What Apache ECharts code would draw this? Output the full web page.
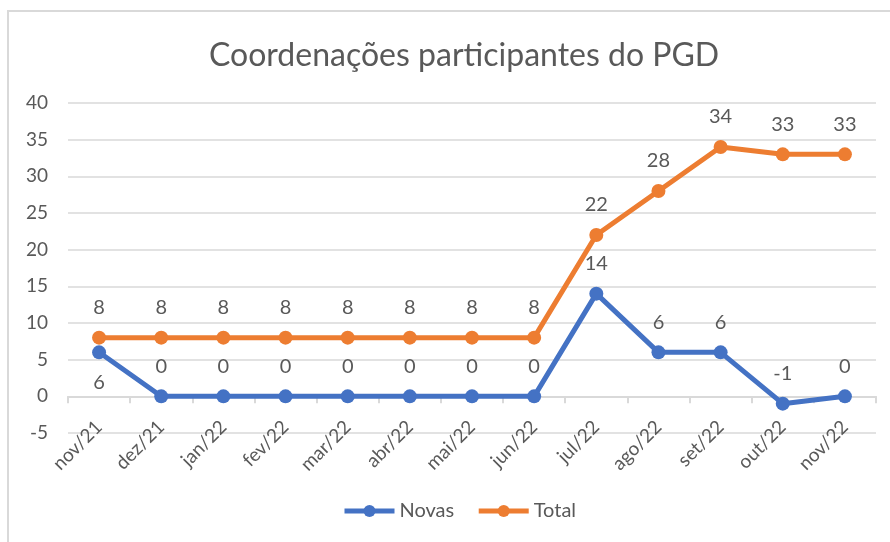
<!DOCTYPE html>
<html>
<head>
<meta charset="utf-8">
<script src="https://cdn.jsdelivr.net/npm/echarts@6/dist/echarts.min.js"></script>
<style>html,body{margin:0;padding:0;background:#fff}#c{width:890px;height:542px}</style>
</head>
<body>
<div id="c"></div>
<script>
const categories = ['nov/21','dez/21','jan/22','fev/22','mar/22','abr/22','mai/22','jun/22','jul/22','ago/22','set/22','out/22','nov/22'];
const novas = [6,0,0,0,0,0,0,0,14,6,6,-1,0];
const total = [8,8,8,8,8,8,8,8,22,28,34,33,33];
const yMin = -5, yMax = 40, yStep = 5;

const font = 'Lato, "Noto Sans", sans-serif';
const txt = '#595959';
const chart = echarts.init(document.getElementById('c'));
const novasData = novas.map((v, i) => i === 0 ? {value: v, label: {position: 'bottom'}} : v);
chart.setOption({
  animation: false,
  textStyle: {fontFamily: font},
  title: {text: 'Coordenações participantes do PGD', left: 204, top: 35,
    textStyle: {fontFamily: font, fontSize: 32, fontWeight: 'normal', color: txt}},
  legend: {bottom: 16, left: 337, itemWidth: 50, itemHeight: 15, itemGap: 22,
    lineStyle: {width: 5},
    textStyle: {fontFamily: font, fontSize: 20, color: txt},
    data: ['Novas', 'Total']},
  grid: {left: 68, right: 14, top: 103, bottom: 109, containLabel: false},
  graphic: [{type: 'polyline', silent: true, shape: {points: [[8, 560], [8, 11], [900, 11]]},
    style: {stroke: '#d9d9d9', lineWidth: 2, fill: null}}],
  xAxis: [{
    type: 'category', data: categories, boundaryGap: true,
    axisLine: {show: false, onZero: false}, axisTick: {show: false},
    axisLabel: {rotate: 45, fontSize: 19, color: txt, margin: -9, fontFamily: font}
  }, {
    type: 'category', data: categories, boundaryGap: true,
    axisLine: {show: true, onZero: true, lineStyle: {color: '#d9d9d9', width: 2}},
    axisTick: {show: true, inside: true, length: 7, lineStyle: {color: '#d9d9d9', width: 2}},
    axisLabel: {show: false}
  }],
  yAxis: {type: 'value', min: yMin, max: yMax, interval: yStep,
    axisLine: {show: false}, axisTick: {show: false},
    axisLabel: {fontSize: 19, color: txt, margin: 20, fontFamily: font},
    splitLine: {lineStyle: {color: '#d9d9d9', width: 1.5}}},
  series: [{
    name: 'Novas', type: 'line', data: novasData, symbol: 'circle', symbolSize: 14,
    itemStyle: {color: '#4472C4'}, lineStyle: {width: 5, color: '#4472C4'},
    label: {show: true, position: 'top', distance: 13, fontSize: 20, color: txt, fontFamily: font}
  }, {
    name: 'Total', type: 'line', data: total, symbol: 'circle', symbolSize: 14,
    itemStyle: {color: '#ED7D31'}, lineStyle: {width: 5, color: '#ED7D31'},
    label: {show: true, position: 'top', distance: 13, fontSize: 20, color: txt, fontFamily: font}
  }]
});
</script>
</body>
</html>
